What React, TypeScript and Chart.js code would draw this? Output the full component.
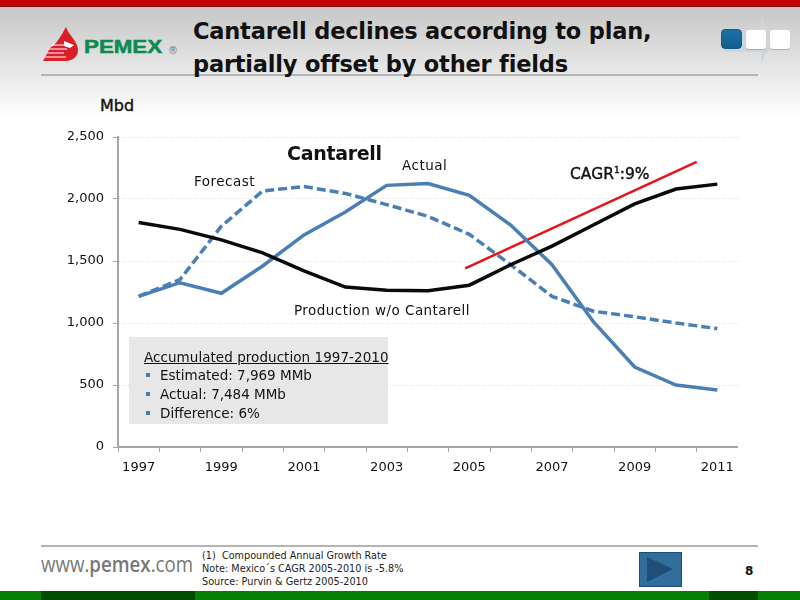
import { useEffect, useRef } from "react"
import type { CSSProperties, ReactNode } from "react"
import { Chart, registerables } from "chart.js"

Chart.register(...registerables)

const years = ["1997", "1998", "1999", "2000", "2001", "2002", "2003", "2004", "2005", "2006", "2007", "2008", "2009", "2010", "2011"]
const withoutCantarell = [1810, 1755, 1670, 1565, 1420, 1290, 1265, 1260, 1305, 1470, 1620, 1790, 1960, 2080, 2120]
const actual = [1215, 1325, 1240, 1460, 1710, 1895, 2110, 2125, 2030, 1790, 1470, 1010, 645, 500, 460]
const forecast = [1215, 1350, 1780, 2065, 2100, 2045, 1955, 1860, 1715, 1470, 1215, 1095, 1050, 1000, 955]
const cagrYears = [2004.9, 2010.5]
const cagrValues = [1440, 2300]
const accumulated = ["Estimated: 7,969 MMb", "Actual: 7,484 MMb", "Difference: 6%"]

const FONT = '"DejaVu Sans", sans-serif'

function Label({ x, y, size = 13.5, bold, color = "#111", children, style }: {
  x: number
  y: number
  size?: number
  bold?: boolean
  color?: string
  children: ReactNode
  style?: CSSProperties
}) {
  return (
    <div
      style={{
        position: "absolute",
        left: x,
        top: y,
        fontSize: size,
        fontWeight: bold ? 700 : 400,
        color,
        lineHeight: 1,
        whiteSpace: "pre",
        ...style,
      }}
    >
      {children}
    </div>
  )
}

function box(x: number, y: number, w: number, h: number, background: string, extra?: CSSProperties): CSSProperties {
  return { position: "absolute", left: x, top: y, width: w, height: h, background, ...extra }
}

export default function App() {
  const canvasRef = useRef<HTMLCanvasElement>(null)

  useEffect(() => {
    if (!canvasRef.current) return

    const chart = new Chart(canvasRef.current, {
      type: "line",
      data: {
        labels: years,
        datasets: [
          {
            label: "Production w/o Cantarell",
            data: withoutCantarell,
            borderColor: "#0a0a0a",
            borderWidth: 3.5,
            pointRadius: 0,
          },
          {
            label: "Forecast",
            data: forecast,
            borderColor: "#4a7fb5",
            borderWidth: 3.5,
            borderDash: [9, 4],
            pointRadius: 0,
          },
          {
            label: "Actual",
            data: actual,
            borderColor: "#4a7fb5",
            borderWidth: 3.5,
            pointRadius: 0,
          },
          {
            label: "CAGR",
            data: cagrYears.map((year, i) => ({ x: year, y: cagrValues[i] })),
            xAxisID: "x2",
            borderColor: "#e5141b",
            borderWidth: 2.5,
            pointRadius: 0,
          },
        ],
      },
      options: {
        responsive: false,
        animation: false,
        layout: { padding: { top: 10, right: 0, left: 0, bottom: 0 } },
        plugins: { legend: { display: false }, tooltip: { enabled: false } },
        scales: {
          x: {
            offset: true,
            afterFit: (scale) => {
              scale.height = 38
              scale.paddingLeft = 0
              scale.paddingRight = 0
            },
            grid: { offset: true, drawOnChartArea: false, tickLength: 5, tickColor: "#a6a6a6" },
            border: { color: "#a6a6a6", width: 2 },
            ticks: {
              autoSkip: false,
              maxRotation: 0,
              padding: 8,
              color: "#111",
              font: { family: FONT, size: 13 },
              callback: (_, i) => (i % 2 === 0 ? years[i] : ""),
            },
          },
          x2: { type: "linear", display: false, min: 1996.5, max: 2011.5 },
          y: {
            min: 0,
            max: 2500,
            afterFit: (scale) => {
              scale.width = 50
              scale.paddingTop = 0
              scale.paddingBottom = 0
            },
            grid: { color: "#dcdcdc", tickColor: "#a6a6a6", tickLength: 5 },
            border: { color: "#a6a6a6", width: 2, dash: [1, 2] },
            ticks: {
              stepSize: 500,
              padding: 9,
              color: "#111",
              font: { family: FONT, size: 13 },
              callback: (v) => Number(v).toLocaleString("en-US"),
            },
          },
        },
      },
    })

    return () => {
      chart.destroy()
    }
  }, [])

  return (
    <div
      style={{
        position: "absolute",
        left: 0,
        top: 0,
        width: 800,
        height: 600,
        overflow: "hidden",
        fontFamily: FONT,
        background: "linear-gradient(#c6c6c6 6px, #dcdcdc 50px, #ffffff 118px)",
      }}
    >
      <div style={box(0, 0, 800, 6, "#c60000", { borderBottom: "1px solid #8f1010" })} />
      <div style={box(0, 591, 800, 9, "#058005")} />
      <div style={box(41, 591, 154, 9, "#004d00")} />
      <div style={box(709, 591, 49, 9, "#004d00")} />
      <div style={box(41, 74, 717, 2, "#b4b4b4")} />
      <div style={box(41, 545, 717, 1.5, "#b4b4b4")} />

      {/* logo */}
      <svg style={{ position: "absolute", left: 40, top: 24 }} width="42" height="40" viewBox="0 0 42 40">
        <path d="M26 3 C29 12 38 17 38 26 C38 33 32 37 26 37 L3 37 L10 24 C16 21 21 12 26 3 Z" fill="#d8202a" />
        <path d="M12 21 H24 M9 25 H27 M7 29 H24 M5 33 H26" stroke="#fff" strokeWidth="1" />
        <path d="M24 17 L34 21 L30 24 L24 22 Z" fill="#fff" />
      </svg>
      <Label x={84} y={38} size={18} bold color="#0d8a50" style={{ transform: "scaleX(1.24)", transformOrigin: "left", fontFamily: '"Liberation Sans", sans-serif', WebkitTextStroke: "0.5px #0d8a50" }}>
        PEMEX
      </Label>
      <Label x={168} y={46} size={10} color="#777">®</Label>

      {/* title */}
      <Label x={193} y={20} size={22.5} bold style={{ letterSpacing: -0.2 }}>Cantarell declines according to plan,</Label>
      <Label x={193} y={53} size={22.5} bold style={{ letterSpacing: -0.2 }}>partially offset by other fields</Label>

      {/* navigation */}
      <svg style={{ position: "absolute", left: 720, top: 15 }} width="76" height="50" viewBox="0 0 76 50">
        <path d="M41 2 L55 25 L41 48 L41 37 L5 37 L5 20 L41 20 Z" fill="#cfd5dc" />
      </svg>
      <div style={box(721, 29, 21, 20, "linear-gradient(#1c70a8, #155d8e)", { borderRadius: 4, border: "1px solid #155a8a", boxSizing: "border-box" })} />
      <div style={box(746, 30, 20, 19, "#fff", { borderRadius: 3, boxShadow: "0 1px 1px #aaa" })} />
      <div style={box(770, 30, 20, 19, "#fff", { borderRadius: 3, boxShadow: "0 1px 1px #aaa" })} />

      <Label x={100} y={98} size={16} style={{ WebkitTextStroke: "0.4px #111" }}>Mbd</Label>

      <canvas ref={canvasRef} width={670} height={358} style={{ position: "absolute", left: 68, top: 127, width: 670, height: 358 }} />

      <Label x={287} y={144} size={19} bold style={{ letterSpacing: -0.3 }}>Cantarell</Label>
      <Label x={402} y={159} size={13.5} style={{ letterSpacing: 0.5 }}>Actual</Label>
      <Label x={194} y={175} size={13.5} style={{ letterSpacing: 0.5 }}>Forecast</Label>
      <Label x={570} y={167} size={15.5} style={{ WebkitTextStroke: "0.4px #111" }}>
        CAGR<sup style={{ fontSize: 9, lineHeight: 0 }}>1</sup>:9%
      </Label>
      <Label x={294} y={304} size={13.5} style={{ letterSpacing: 0.45 }}>Production w/o Cantarell</Label>

      <div style={box(129, 337, 259, 87, "#e7e7e7")} />
      <Label x={144} y={351} size={13.5} style={{ textDecoration: "underline", letterSpacing: 0.05 }}>Accumulated production 1997-2010</Label>
      {accumulated.map((line, i) => (
        <div key={line}>
          <div style={box(146, 373 + i * 19, 4, 4, "#3f7fb0")} />
          <Label x={160} y={369 + i * 19} size={13.5}>{line}</Label>
        </div>
      ))}

      {/* footer */}
      <Label x={41} y={554} size={21} color="#777" style={{ fontFamily: '"Open Sans", sans-serif', transform: "scaleX(0.89)", transformOrigin: "left" }}>
        www.<span style={{ fontWeight: 600 }}>pemex</span>.com
      </Label>
      <Label x={202} y={551} size={9.7} color="#222">(1)  Compounded Annual Growth Rate</Label>
      <Label x={202} y={563.5} size={9.7} color="#222">Note: Mexico´s CAGR 2005-2010 is -5.8%</Label>
      <Label x={202} y={577} size={9.7} color="#222">Source: Purvin &amp; Gertz 2005-2010</Label>

      <svg style={{ position: "absolute", left: 639, top: 552 }} width="43" height="35" viewBox="0 0 43 35">
        <rect x="0.5" y="0.5" width="42" height="34" fill="#326e9c" stroke="#1f4e74" />
        <path d="M8 5 L34 17 L8 30 Z" fill="#1f4f78" />
      </svg>
      <Label x={745} y={565} size={12} bold>8</Label>
    </div>
  )
}
